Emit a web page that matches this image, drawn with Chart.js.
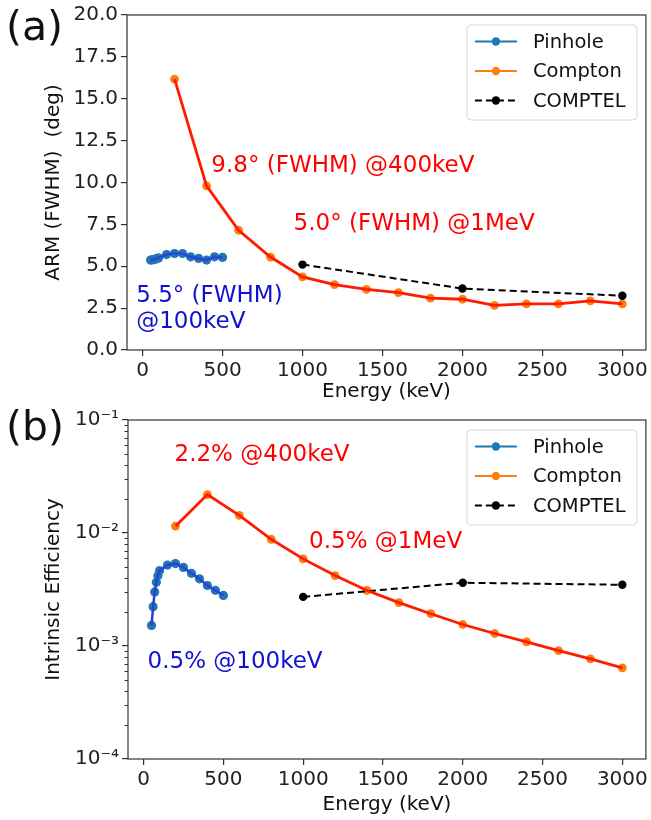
<!DOCTYPE html>
<html>
<head>
<meta charset="utf-8">
<script src="https://cdn.jsdelivr.net/npm/chart.js@4.4.1/dist/chart.umd.min.js"></script>
<style>
  body { margin: 0; background: #fff; width: 651px; height: 820px; position: relative; overflow: hidden; }
  .box { position: absolute; left: 0; width: 651px; }
  .tag { position: absolute; left: 6px; font: 41px "DejaVu Sans", sans-serif; color: #111; line-height: 1; }
</style>
</head>
<body>
<div class="box" style="top:0;height:405px"><canvas id="armChart"></canvas></div>
<div class="box" style="top:405px;height:415px"><canvas id="effChart"></canvas></div>
<div class="tag" style="top:6px">(a)</div>
<div class="tag" style="top:406px">(b)</div>
<script>
// energies in keV
const pinholeEnergy = [50, 60, 70, 80, 90, 100, 150, 200, 250, 300, 350, 400, 450, 500];
const comptonEnergy = [200, 400, 600, 800, 1000, 1200, 1400, 1600, 1800, 2000, 2200, 2400, 2600, 2800, 3000];
const comptelEnergy = [1000, 2000, 3000];

// ARM (FWHM), deg
const pinholeArm = [5.37, 5.38, 5.40, 5.42, 5.46, 5.50, 5.70, 5.76, 5.76, 5.56, 5.47, 5.37, 5.56, 5.53];
const comptonArm = [16.17, 9.8, 7.15, 5.55, 4.36, 3.9, 3.62, 3.42, 3.1, 3.03, 2.67, 2.75, 2.75, 2.93, 2.75];
const comptelArm = [5.1, 3.67, 3.24];

// intrinsic efficiency
const pinholeEff = [0.00152, 0.00223, 0.00301, 0.00367, 0.00419, 0.00464, 0.0052, 0.00536, 0.00496, 0.0044, 0.00393, 0.00343, 0.00311, 0.0028];
const comptonEff = [0.0115, 0.0219, 0.0143, 0.0088, 0.0059, 0.0042, 0.0031, 0.00242, 0.00193, 0.00155, 0.00129, 0.00109, 0.00091, 0.00077, 0.00064];
const comptelEff = [0.00272, 0.00363, 0.00348];

const xTicks = [0, 500, 1000, 1500, 2000, 2500, 3000];
const armTicks = [0, 2.5, 5, 7.5, 10, 12.5, 15, 17.5, 20];
const effTicks = [1e-4, 1e-3, 1e-2, 1e-1];

const FONT = '"DejaVu Sans", sans-serif';
const AXIS = '#333';
const TICK_TEXT = '#222';

const pts = (xs, ys) => xs.map((x, i) => ({ x: x, y: ys[i] }));

function makeDatasets(pinhole, compton, comptel) {
  return [
    { label: 'Pinhole line', data: pts(pinholeEnergy, pinhole), showLine: true, borderColor: '#2a44d4', borderWidth: 2.6, pointRadius: 0, order: 1 },
    { label: 'Pinhole', data: pts(pinholeEnergy, pinhole), showLine: false, pointRadius: 4.6, pointBackgroundColor: '#1f77b4', pointBorderWidth: 0, order: 2 },
    { label: 'Compton line', data: pts(comptonEnergy, compton), showLine: true, borderColor: '#ff1a00', borderWidth: 2.8, pointRadius: 0, order: 0 },
    { label: 'Compton', data: pts(comptonEnergy, compton), showLine: false, pointRadius: 4.4, pointBackgroundColor: '#ff7f0e', pointBorderWidth: 0, order: 3 },
    { label: 'COMPTEL', data: pts(comptelEnergy, comptel), showLine: true, borderColor: '#000', borderWidth: 2, borderDash: [7, 4], pointRadius: 4.2, pointBackgroundColor: '#000', pointBorderWidth: 0, order: 0 }
  ];
}

const legendItems = [
  { text: 'Pinhole', color: '#1f77b4', dash: [] },
  { text: 'Compton', color: '#ff7f0e', dash: [] },
  { text: 'COMPTEL', color: '#000', dash: [7, 4] }
];

// frame, minor log ticks, notes and a matplotlib-like legend
function makeDecor(notes, minorLog) {
  return {
    id: 'decor',
    afterDraw(chart) {
      const { ctx, chartArea: a, scales } = chart;
      ctx.save();
      ctx.strokeStyle = AXIS;
      ctx.lineWidth = 1.2;
      ctx.strokeRect(a.left, a.top, a.right - a.left, a.bottom - a.top);

      if (minorLog) {
        ctx.lineWidth = 1;
        for (let e = -4; e < -1 + 0.1; e++) {
          for (let m = 2; m <= 9; m++) {
            const v = m * Math.pow(10, e);
            if (v > 0.1) continue;
            const py = Math.round(scales.y.getPixelForValue(v)) + 0.5;
            ctx.beginPath();
            ctx.moveTo(a.left - 3.5, py);
            ctx.lineTo(a.left, py);
            ctx.stroke();
          }
        }
      }

      ctx.textAlign = 'left';
      ctx.textBaseline = 'middle';
      notes.forEach(n => {
        ctx.fillStyle = n.color;
        ctx.font = '23px ' + FONT;
        ctx.fillText(n.text, scales.x.getPixelForValue(n.x), scales.y.getPixelForValue(n.y));
      });

      // legend box
      const bw = 170, bh = 95;
      const bx = a.right - 9 - bw, by = a.top + 10;
      ctx.beginPath();
      ctx.roundRect(bx, by, bw, bh, 4);
      ctx.fillStyle = 'rgba(255,255,255,0.85)';
      ctx.fill();
      ctx.strokeStyle = '#d6d6d6';
      ctx.lineWidth = 1;
      ctx.stroke();
      ctx.font = '19.5px ' + FONT;
      legendItems.forEach((it, i) => {
        const cy = by + 16.5 + i * 29.5;
        ctx.strokeStyle = it.color;
        ctx.lineWidth = 2;
        ctx.setLineDash(it.dash);
        ctx.beginPath();
        ctx.moveTo(bx + 8, cy);
        ctx.lineTo(bx + 50, cy);
        ctx.stroke();
        ctx.setLineDash([]);
        ctx.fillStyle = it.color;
        ctx.beginPath();
        ctx.arc(bx + 29, cy, 4.2, 0, Math.PI * 2);
        ctx.fill();
        ctx.fillStyle = '#111';
        ctx.fillText(it.text, bx + 66, cy + 1);
      });
      ctx.restore();
    }
  };
}

function xScale(axisHeight, titlePad) {
  return {
    type: 'linear',
    min: -97.5,
    max: 3147.5,
    afterBuildTicks: s => { s.ticks = xTicks.map(v => ({ value: v })); },
    afterFit: s => { s.height = axisHeight; },
    ticks: { font: { family: FONT, size: 20 }, color: TICK_TEXT, padding: 3, maxRotation: 0, callback: v => String(v) },
    grid: { drawOnChartArea: false, drawTicks: true, tickLength: 6, color: AXIS, lineWidth: 1.2 },
    border: { display: false },
    title: { display: true, text: 'Energy (keV)', font: { family: FONT, size: 20 }, color: '#111', padding: { top: 0, bottom: titlePad } }
  };
}

const common = {
  responsive: true,
  maintainAspectRatio: false,
  animation: false,
  plugins: { legend: { display: false }, tooltip: { enabled: false } }
};

new Chart(document.getElementById('armChart'), {
  type: 'scatter',
  data: { datasets: makeDatasets(pinholeArm, comptonArm, comptelArm) },
  options: Object.assign({}, common, {
    layout: { padding: { top: 11, right: 4, left: 0, bottom: 0 } },
    scales: {
      x: xScale(55, 1),
      y: {
        min: 0,
        max: 20,
        afterBuildTicks: s => { s.ticks = armTicks.map(v => ({ value: v })); },
        afterFit: s => { s.width = 127; },
        ticks: { font: { family: FONT, size: 20 }, color: TICK_TEXT, padding: 3, callback: v => v.toFixed(1) },
        grid: { drawOnChartArea: false, drawTicks: true, tickLength: 6, color: AXIS, lineWidth: 1.2 },
        border: { display: false },
        title: { display: true, text: 'ARM (FWHM)  (deg)', font: { family: FONT, size: 20 }, color: '#111', padding: { top: 42, bottom: 0 } }
      }
    }
  }),
  plugins: [makeDecor([
    { text: '9.8° (FWHM) @400keV', x: 430, y: 11.0, color: '#ff0000' },
    { text: '5.0° (FWHM) @1MeV', x: 944, y: 7.55, color: '#ff0000' },
    { text: '5.5° (FWHM)', x: -40, y: 3.2, color: '#1010d0' },
    { text: '@100keV', x: -40, y: 1.65, color: '#1010d0' }
  ], false)]
});

const sup = { '-': '⁻', '1': '¹', '2': '²', '3': '³', '4': '⁴' };

new Chart(document.getElementById('effChart'), {
  type: 'scatter',
  data: { datasets: makeDatasets(pinholeEff, comptonEff, comptelEff) },
  options: Object.assign({}, common, {
    layout: { padding: { top: 7, right: 3, left: 0, bottom: 0 } },
    scales: {
      x: xScale(61, 3),
      y: {
        type: 'logarithmic',
        min: 1e-4,
        max: 1e-1,
        afterBuildTicks: s => { s.ticks = effTicks.map(v => ({ value: v })); },
        afterFit: s => { s.width = 128; },
        ticks: {
          font: { family: FONT, size: 20 }, color: TICK_TEXT, padding: 3,
          callback: v => '10' + String(Math.round(Math.log10(v))).split('').map(c => sup[c]).join('')
        },
        grid: { drawOnChartArea: false, drawTicks: true, tickLength: 6, color: AXIS, lineWidth: 1.2 },
        border: { display: false },
        title: { display: true, text: 'Intrinsic Efficiency', font: { family: FONT, size: 20 }, color: '#111', padding: { top: 42, bottom: 0 } }
      }
    }
  }),
  plugins: [makeDecor([
    { text: '2.2% @400keV', x: 194, y: 0.0491, color: '#ff0000' },
    { text: '0.5% @1MeV', x: 1037, y: 0.00836, color: '#ff0000' },
    { text: '0.5% @100keV', x: 25, y: 0.000724, color: '#1010d0' }
  ], true)]
});
</script>
</body>
</html>
